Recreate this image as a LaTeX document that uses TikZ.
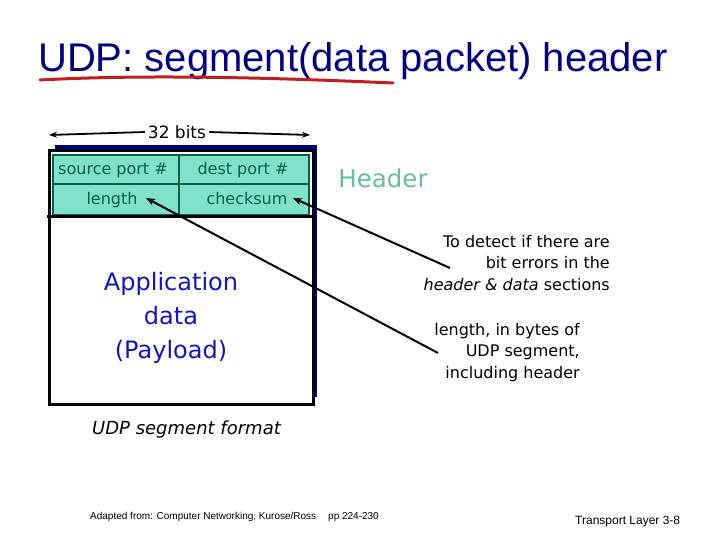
\documentclass[tikz,border=0pt]{standalone}
\usepackage{fontspec}
\setmainfont{Liberation Sans}
\newfontfamily\tah{DejaVu Sans}
\usetikzlibrary{arrows.meta}
\definecolor{navy}{RGB}{0,0,128}
\definecolor{teal1}{RGB}{128,226,200}
\definecolor{dgreen}{RGB}{0,96,72}
\definecolor{hdr}{RGB}{100,190,160}
\definecolor{appblue}{RGB}{20,20,190}
\definecolor{redline}{RGB}{190,30,30}
\begin{document}
\begin{tikzpicture}[x=1pt,y=-1pt,
  cell/.style={font=\tah\fontsize{16}{18}\selectfont, text=dgreen, inner sep=0pt},
  note/.style={font=\tah\fontsize{16}{21.5}\selectfont, align=right, inner sep=0pt},
  ptr/.style={draw=black, line width=2pt, -{Stealth[length=9pt,width=7pt]}}]
\useasboundingbox (0,0) rectangle (720,540);
% title
\node[anchor=base west, inner sep=0pt, text=navy, font=\fontsize{40}{44}\selectfont] (title) at (38,72) {UDP: segment(data packet) header};
\draw[redline, line width=3pt, line cap=round] (40,80) .. controls (150,74) and (280,78) .. (393,83);
% 32 bits
\node[font=\tah\fontsize{17}{20}\selectfont, inner sep=3pt] (bits) at (177,132) {32 bits};
\coordinate (bl) at (49,135);
\coordinate (br) at (310,135);
\draw[line width=1.8pt, -{Stealth[length=8pt,width=6pt]}] (bits.west) -- (bl);
\draw[line width=1.8pt, -{Stealth[length=8pt,width=6pt]}] (bits.east) -- (br);
% box
\fill[navy] (55,145) rectangle (317,397);
\draw[line width=3pt, fill=white] (49,151) rectangle (313,404);
\draw[fill=teal1, draw=dgreen, line width=1.5pt] (53,155) rectangle (309,215);
\draw[dgreen, line width=1.5pt] (53,184) -- (309,184);
\draw[dgreen, line width=1.5pt] (179,155) -- (179,215);
\draw[line width=3pt] (47,217) -- (313,217);
\node[cell] (src) at (113,170) {source port \#};
\node[cell] (dst) at (243,170) {dest port \#};
\node[cell] (len) at (112,200) {length};
\node[cell] (chk) at (247,199) {checksum};
\node[font=\tah\fontsize{24.5}{30}\selectfont, text=hdr, inner sep=0pt] (hd) at (383,178) {Header};
\node[font=\tah\fontsize{24}{34}\selectfont, text=appblue, align=center, inner sep=0pt] (app) at (171,318) {Application\\data\\(Payload)};
% notes
\node[note, anchor=north east] (det) at (610,235) {To detect if there are\\bit errors in the\\\textit{header \& data} sections};
\node[note, anchor=north east] (lng) at (580,323) {length, in bytes of\\UDP segment,\\including header};
\coordinate (d1) at (450,268);
\coordinate (d2) at (438,353);
\coordinate (chkE) at (293,198);
\coordinate (lenE) at (146,198);
\draw[ptr] (d1) -- (chkE);
\draw[ptr] (d2) -- (lenE);
% caption
\node[anchor=base west, font=\tah\itshape\fontsize{18}{22}\selectfont, inner sep=0pt] (cap) at (92,434) {UDP segment format};
% footer
\node[anchor=base west, font=\fontsize{10}{12}\selectfont, inner sep=0pt] (ad) at (90,519) {Adapted from: Computer Networking, Kurose/Ross};
\node[anchor=base west, font=\fontsize{10}{12}\selectfont, inner sep=0pt] (pp) at (328,519) {pp 224-230};
\node[anchor=base west, font=\fontsize{12}{14}\selectfont, inner sep=0pt] (tl) at (575,524) {Transport Layer 3-8};
\end{tikzpicture}
\end{document}
